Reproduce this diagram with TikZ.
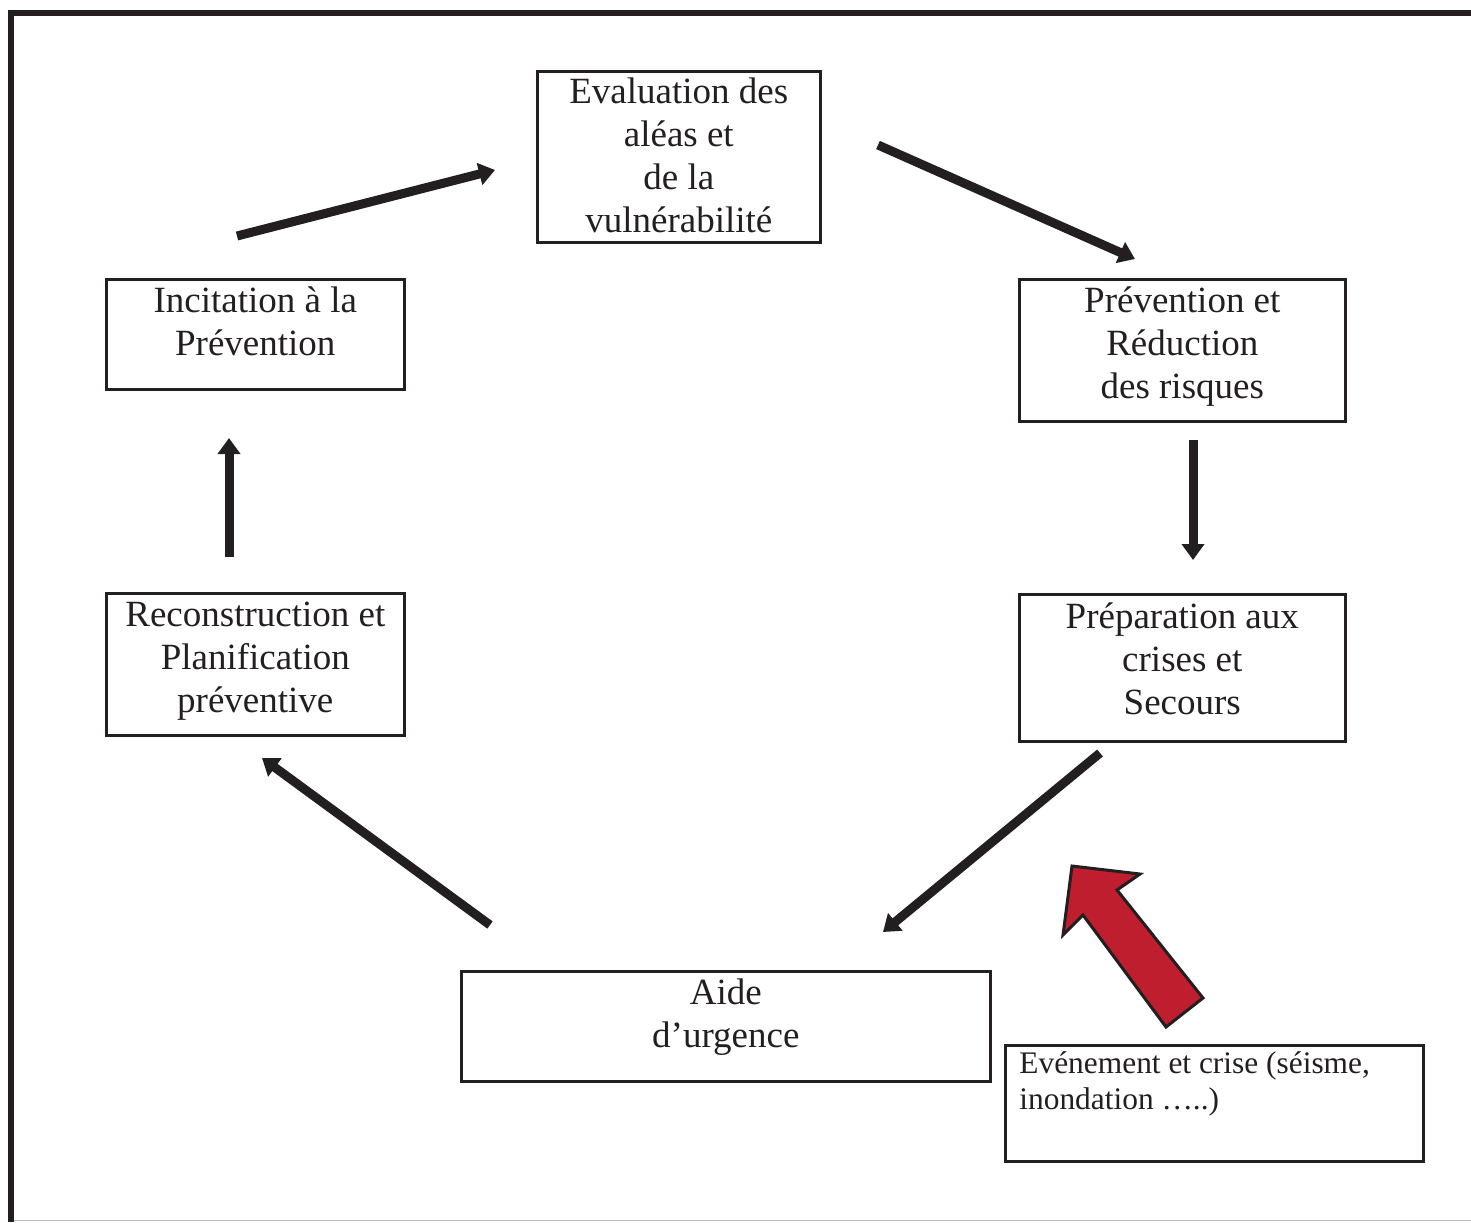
\documentclass[tikz,border=0pt]{standalone}
\usepackage{fontspec}
\setmainfont{Liberation Serif}
\usetikzlibrary{arrows.meta,positioning}
\definecolor{ink}{RGB}{35,31,32}
\definecolor{alarm}{RGB}{190,30,45}

\begin{document}
\begin{tikzpicture}[x=0.5pt,y=-0.5pt,
  box/.style={draw=ink,line width=1.3pt,anchor=north west,align=flush center,
    inner xsep=0pt,inner ysep=0pt,text=ink,
    font=\fontsize{18.5}{21.6}\selectfont},
  flow/.style={ink,line width=4.5pt,-{Triangle[length=8pt,width=11pt]}}]
  \useasboundingbox (0,0) rectangle (1471,1222);
  % frame
  \draw[ink,line width=3pt] (8,13) -- (1471,13);
  \draw[ink,line width=3pt] (11,10) -- (11,1222);
  \draw[black!25,line width=0.8pt] (14,1220.5) -- (1471,1220.5);
  % the six stages
  \node[box,text width=141.5pt,text height=16pt,text depth=69.5pt] (eval) at (536,70)
    {Evaluation des\\aléas et\\de la\\vulnérabilité};
  \node[box,text width=163pt,text height=16.5pt,text depth=54.5pt] (prev) at (1018,278)
    {Prévention et\\Réduction\\des risques};
  \node[box,text width=163pt,text height=17pt,text depth=56.5pt] (prep) at (1018,593)
    {Préparation aux\\crises et\\Secours};
  \node[box,text width=264.5pt,text height=16.5pt,text depth=38.5pt] (aide) at (460,970)
    {Aide\\d’urgence};
  \node[box,text width=149pt,text height=16.5pt,text depth=54.5pt] (recon) at (105,592)
    {Reconstruction et\\Planification\\préventive};
  \node[box,text width=149pt,text height=16.5pt,text depth=38.5pt] (incit) at (105,278)
    {Incitation à la\\Prévention};
  % the triggering event
  \node[box,align=flush left,inner xsep=7pt,line width=1.4pt,text width=195pt,
    text height=14pt,text depth=44pt,font=\fontsize{15.7}{18}\selectfont] (event) at (1004,1044)
    {Evénement et crise (séisme,\\inondation …..)};
  % ends of the cycle arrows
  \coordinate (c1a) at (237,236);  \coordinate (c1b) at (495,170);
  \coordinate (c2a) at (878,145);  \coordinate (c2b) at (1135,259);
  \coordinate (c3a) at (1193,440); \coordinate (c3b) at (1193,560);
  \coordinate (c4a) at (1100,753); \coordinate (c4b) at (883,932);
  \coordinate (c5a) at (490,925);  \coordinate (c5b) at (262,758);
  \coordinate (c6a) at (229,557);  \coordinate (c6b) at (229,438);
  \draw[flow] (c1a) -- (c1b);
  \draw[flow] (c2a) -- (c2b);
  \draw[flow] (c3a) -- (c3b);
  \draw[flow] (c4a) -- (c4b);
  \draw[flow] (c5a) -- (c5b);
  \draw[flow] (c6a) -- (c6b);
  % red block arrow pointing at the cycle
  \draw[ink,fill=alarm,line width=1.5pt,line join=miter]
    (1072,866) -- (1140,874) -- (1117,890) -- (1203,998)
    -- (1166,1027) -- (1083,915) -- (1063,935) -- cycle;
\end{tikzpicture}
\end{document}
